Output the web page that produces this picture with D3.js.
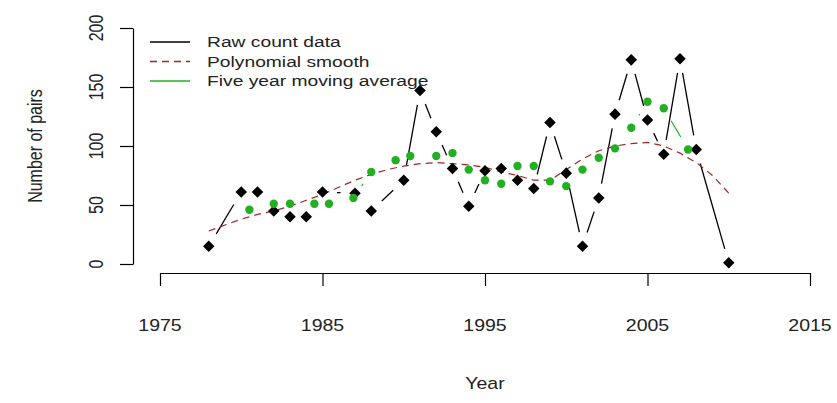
<!DOCTYPE html>
<html><head><meta charset="utf-8">
<script src="https://cdn.jsdelivr.net/npm/d3@7"></script>
<style>
body{margin:0;background:#fff;}
svg{display:block;font-family:"Liberation Sans",Arial,sans-serif;}
</style></head>
<body><svg id="c" width="837" height="403"></svg>
<script>
// Raw count data (years with counts)
const rawYears = [1978,1980,1981,1982,1983,1984,1985,1987,1988,1990,1991,1992,1993,1994,1995,1996,1997,1998,1999,2000,2001,2002,2003,2004,2005,2006,2007,2008,2010];
const rawCounts = [15,61,61,45,40,40,61,60,45,71,147,112,81,49,79,81,71,64,120,77,15,56,127,173,122,93,174,97,1];
// Polynomial smooth
const smoothYears = [1978,1979,1980,1981,1982,1983,1984,1985,1986,1987,1988,1989,1990,1991,1992,1993,1994,1995,1996,1997,1998,1999,2000,2001,2002,2003,2004,2005,2006,2007,2008,2009,2010];
const smoothValues = [28,33,38,42,45,49,54,59,65,71,76,80,83,85,86,85,84,82,78,75,71,71,80,89,96,100,102,103,100,94,86,75,60];
// Five year moving average
const maYears = [1980.5,1982,1983,1984.5,1985.4,1986.9,1988,1989.5,1990.4,1992,1993,1994,1995,1996,1997,1998,1999,2000,2001,2002,2003,2004,2005,2006,2007.5];
const maValues = [46,51,51,51,51,56,78,88,91.5,91.5,94,80,71,68,83,83,70,66,80,90,98,115.5,137.5,132,97];
// Axis ticks
const xTicks = [1975,1985,1995,2005,2015];
const yTicks = [0,50,100,150,200];
const legendLabels = ["Raw count data","Polynomial smooth","Five year moving average"];

const SX = 1.22; // horizontal stretch of text
const svg = d3.select("#c");
const x = d3.scaleLinear().domain([1975,2015]).range([160,810]);
const y = d3.scaleLinear().domain([0,200]).range([264,28]);

const colRaw = "#000", colSmooth = "#a02428", colMA = "#22b022";

function stretchedText(g, tx, ty, str, size, rot){
  return g.append("text")
    .attr("transform", `translate(${tx},${ty}) scale(${SX},1)` + (rot ? ` rotate(${rot})` : ""))
    .attr("text-anchor","middle").attr("dominant-baseline","central")
    .attr("font-size", size).attr("fill","#222").text(str);
}

// axes
svg.append("g").attr("transform","translate(0,273)")
  .call(d3.axisBottom(x).tickValues(xTicks).tickSize(13).tickSizeOuter(0).tickFormat(""));
svg.append("g").attr("transform","translate(133,0)")
  .call(d3.axisLeft(y).tickValues(yTicks).tickSize(13).tickSizeOuter(0).tickFormat(""));
svg.selectAll(".domain, .tick line").attr("stroke","#000").attr("stroke-width",1.2);

xTicks.forEach(t => stretchedText(svg, x(t), 326, String(t), 16));
yTicks.forEach(t => stretchedText(svg, 96, y(t), String(t), 16, -90));
stretchedText(svg, 485, 384, "Year", 16);
stretchedText(svg, 35, 146, "Number of pairs", 16, -90);

// type "b" helper: segments with gaps around points
function gappedSegments(pts, gap){
  const segs = [];
  for(let i=0;i<pts.length-1;i++){
    const [x1,y1]=pts[i],[x2,y2]=pts[i+1];
    const d = Math.hypot(x2-x1,y2-y1);
    if(d > 2*gap){
      const ux=(x2-x1)/d, uy=(y2-y1)/d;
      segs.push([[x1+ux*gap,y1+uy*gap],[x2-ux*gap,y2-uy*gap]]);
    }
  }
  return segs;
}
const GAP = 14.5;

// Raw data line
const rawPts = rawYears.map((yr,i)=>[x(yr), y(rawCounts[i])]);
svg.append("g").selectAll("line").data(gappedSegments(rawPts,GAP)).join("line")
  .attr("x1",d=>d[0][0]).attr("y1",d=>d[0][1]).attr("x2",d=>d[1][0]).attr("y2",d=>d[1][1])
  .attr("stroke",colRaw).attr("stroke-width",1.3);

// Polynomial smooth
svg.append("path")
  .datum(smoothYears.map((yr,i)=>[x(yr), y(smoothValues[i])]))
  .attr("d", d3.line())
  .attr("fill","none").attr("stroke",colSmooth).attr("stroke-width",1.2)
  .attr("stroke-dasharray","7,5");

// Moving average line
const maPts = maYears.map((yr,i)=>[x(yr), y(maValues[i])]);
svg.append("g").selectAll("line").data(gappedSegments(maPts,GAP)).join("line")
  .attr("x1",d=>d[0][0]).attr("y1",d=>d[0][1]).attr("x2",d=>d[1][0]).attr("y2",d=>d[1][1])
  .attr("stroke",colMA).attr("stroke-width",1.2);

// Points
svg.append("g").selectAll("path").data(rawPts).join("path")
  .attr("d", d3.symbol(d3.symbolDiamond2, 85))
  .attr("transform", d=>`translate(${d[0]},${d[1]})`)
  .attr("fill",colRaw);

svg.append("g").selectAll("circle").data(maPts).join("circle")
  .attr("cx",d=>d[0]).attr("cy",d=>d[1]).attr("r",4.2).attr("fill",colMA);

// Legend
const legY = [42, 61.5, 81];
const leg = svg.append("g");
[[colRaw,null],[colSmooth,"7,5"],[colMA,null]].forEach((s,i)=>{
  leg.append("line").attr("x1",150).attr("x2",190).attr("y1",legY[i]).attr("y2",legY[i])
    .attr("stroke",s[0]).attr("stroke-width",1.3).attr("stroke-dasharray",s[1]);
  leg.append("text").attr("transform",`translate(207,${legY[i]}) scale(1.25,1)`)
    .attr("dominant-baseline","central").attr("font-size",15.4).attr("fill","#222").text(legendLabels[i]);
});
</script></body></html>
